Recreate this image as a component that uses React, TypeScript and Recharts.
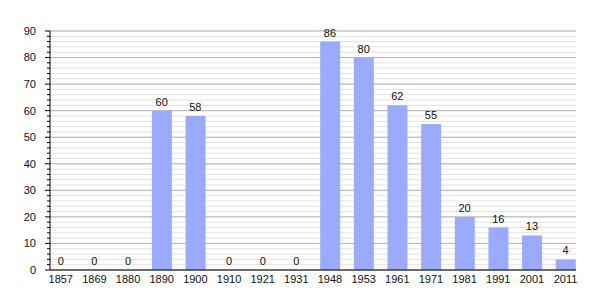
import React from "react";
import {
  ComposedChart, Bar, Line, XAxis, YAxis, CartesianGrid, LabelList,
} from "recharts";

const YEARS = ["1857", "1869", "1880", "1890", "1900", "1910", "1921", "1931", "1948", "1953", "1961", "1971", "1981", "1991", "2001", "2011"];
const POPULATION = [0, 0, 0, 60, 58, 0, 0, 0, 86, 80, 62, 55, 20, 16, 13, 4];
const MAJOR_TICKS = [0, 10, 20, 30, 40, 50, 60, 70, 80, 90];
const MINOR_TICKS = Array.from({ length: 46 }, (_, i) => i * 2);

const data = YEARS.map((year, i) => ({ idx: i, year, value: POPULATION[i] }));

const font = "'Liberation Sans', Arial, sans-serif";

function YTick(props: any) {
  const { x, y, payload } = props;
  const v = payload.value as number;
  const major = v % 10 === 0;
  return (
    <g>
      <line x1={x - (major ? 5 : 3)} x2={x} y1={y} y2={y} stroke="#000" strokeWidth={1} />
      {major && (
        <text x={x - 14} y={y} dy="0.355em" textAnchor="end" fontSize={11} fontFamily={font} fill="#111">
          {v}
        </text>
      )}
    </g>
  );
}

// labels hang off an invisible line so the zero values get one too
function ValueLabel(props: any) {
  const { x, y, value } = props;
  return (
    <text x={x} y={y - 5} textAnchor="middle" fontSize={11} fontFamily={font} fill="#111">
      {value}
    </text>
  );
}

export default function App() {
  return (
    <div style={{ position: "absolute", left: 0, top: 0, background: "#fff" }}>
      <ComposedChart
        width={605}
        height={300}
        data={data}
        margin={{ top: 31, right: 29, bottom: 0, left: 0 }}
      >
        <CartesianGrid vertical={false} horizontalValues={MINOR_TICKS} stroke="#e3e3e3" />
        <CartesianGrid vertical={false} horizontalValues={MAJOR_TICKS} stroke="#b5b5b5" />
        <XAxis
          dataKey="idx"
          type="number"
          height={30}
          domain={[-0.32, 15.31]}
          ticks={data.map((d) => d.idx)}
          interval={0}
          tickFormatter={(i: number) => YEARS[i]}
          tickLine={false}
          tickSize={0}
          tickMargin={5}
          axisLine={{ stroke: "#000" }}
          tick={{ fontSize: 11, fontFamily: font, fill: "#111" }}
          allowDataOverflow
        />
        <YAxis
          width={50}
          domain={[0, 90]}
          ticks={MINOR_TICKS}
          interval={0}
          tickLine={false}
          tickSize={0}
          tickMargin={0}
          axisLine={{ stroke: "#000" }}
          tick={<YTick />}
        />
        <Bar dataKey="value" fill="#9aabff" barSize={20} isAnimationActive={false} />
        <Line
          dataKey="value"
          stroke="none"
          dot={false}
          activeDot={false}
          legendType="none"
          isAnimationActive={false}
        >
          <LabelList dataKey="value" content={<ValueLabel />} />
        </Line>
      </ComposedChart>
    </div>
  );
}
